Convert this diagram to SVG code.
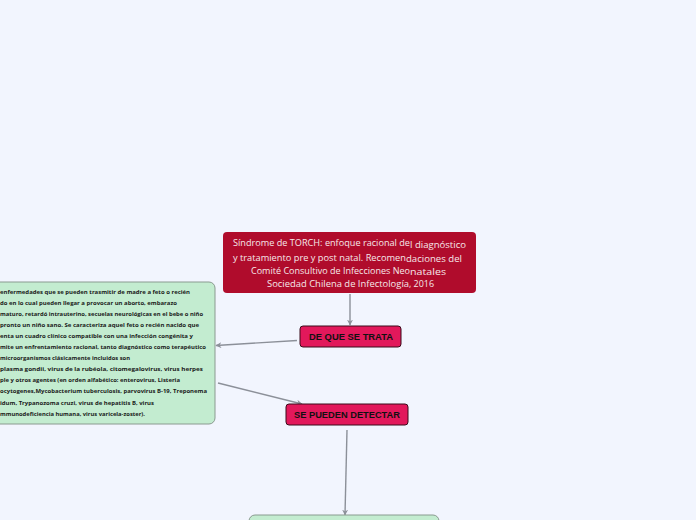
<svg xmlns="http://www.w3.org/2000/svg" width="696" height="520" viewBox="0 0 696 520">
<style>
.bg{fill:#f2f5fe}
.green{fill:#c3ecd0;stroke:#8a9a90;stroke-width:1}
.red{fill:#b00c2c}
.pink{fill:#e2185b;stroke:#3b0b1a;stroke-width:1}
.conn{stroke:#8c9099;stroke-width:1.4;fill:none;marker-end:url(#arr)}
.t{font-family:"Open Sans","Noto Sans",sans-serif;font-size:9px;fill:#f6e8ea}
.lbl{font-family:"Liberation Sans",Arial,sans-serif;font-size:8.5px;font-weight:bold;fill:#111}
.s{font-family:"Open Sans","Noto Sans",sans-serif;font-size:5.8px;font-weight:bold;fill:#1a1a1a}
</style>
<defs>
<marker id="arr" viewBox="0 0 10 10" refX="9" refY="5" markerWidth="6" markerHeight="6" orient="auto" markerUnits="userSpaceOnUse">
<path d="M0,0 L10,5 L0,10 L3,5 Z" fill="#8c9099"/>
</marker>
</defs>
<rect class="bg" x="0" y="0" width="696" height="520"/>
<g id="connectors">
<line class="conn" x1="350" y1="294" x2="350" y2="325"/>
<line class="conn" x1="297" y1="340.5" x2="216" y2="345.5"/>
<line class="conn" x1="218" y1="383" x2="302" y2="404"/>
<line class="conn" x1="347" y1="430" x2="345" y2="515"/>
</g>
<g id="title">
<rect class="red" x="223" y="232" width="253" height="61" rx="4"/>
<text class="t" x="233" y="246" textLength="177" lengthAdjust="spacingAndGlyphs">Síndrome de TORCH: enfoque racional de</text>
<text class="t" x="410" y="248" textLength="56" lengthAdjust="spacingAndGlyphs">l diagnóstico</text>
<text class="t" x="233" y="261" textLength="173" lengthAdjust="spacingAndGlyphs">y  tratamiento pre y post natal. Recomen</text>
<text class="t" x="406" y="262" textLength="56" lengthAdjust="spacingAndGlyphs">daciones del</text>
<text class="t" x="251" y="274" textLength="159" lengthAdjust="spacingAndGlyphs">Comité Consultivo de Infecciones Neo</text>
<text class="t" x="410" y="275" textLength="36" lengthAdjust="spacingAndGlyphs">natales</text>
<text class="t" x="267" y="287" textLength="142" lengthAdjust="spacingAndGlyphs">Sociedad Chilena de Infectología</text>
<text class="t" x="409" y="287" textLength="25" lengthAdjust="spacingAndGlyphs">, 2016</text>
</g>
<g id="de-que-se-trata">
<rect class="pink" x="300" y="326" width="101" height="21" rx="3"/>
<text class="lbl" x="309" y="339.8" textLength="84" lengthAdjust="spacingAndGlyphs">DE QUE SE TRATA</text>
</g>
<g id="descripcion">
<rect class="green" x="-20" y="282" width="235" height="142" rx="6"/>
<text class="s" x="0" y="293.5" textLength="190" lengthAdjust="spacingAndGlyphs">enfermedades que se pueden trasmitir de madre a feto o recién</text>
<text class="s" x="0" y="304.6" textLength="177" lengthAdjust="spacingAndGlyphs">do en lo cual pueden llegar a provocar un aborto, embarazo</text>
<text class="s" x="0" y="315.7" textLength="203" lengthAdjust="spacingAndGlyphs">maturo, retardó intrauterino, secuelas neurológicas en el bebe o niño</text>
<text class="s" x="0" y="326.8" textLength="199" lengthAdjust="spacingAndGlyphs"> pronto un niño sano. Se caracteriza aquel feto o recién nacido  que</text>
<text class="s" x="0" y="337.9" textLength="193" lengthAdjust="spacingAndGlyphs">enta un cuadro clínico compatible con una infección congénita y</text>
<text class="s" x="0" y="349" textLength="206" lengthAdjust="spacingAndGlyphs">mite un enfrentamiento racional, tanto diagnóstico como terapéutico</text>
<text class="s" x="0" y="360.1" textLength="130" lengthAdjust="spacingAndGlyphs">microorganismos clásicamente incluidos son</text>
<text class="s" x="0" y="371.2" textLength="203" lengthAdjust="spacingAndGlyphs">plasma gondii, virus de la rubéola, citomegalovirus, virus herpes</text>
<text class="s" x="0" y="382.3" textLength="180" lengthAdjust="spacingAndGlyphs">ple y otros agentes (en orden alfabético: enterovirus, Listeria</text>
<text class="s" x="0" y="393.4" textLength="207" lengthAdjust="spacingAndGlyphs">ocytogenes,Mycobacterium tuberculosis, parvovirus B-19, Treponema</text>
<text class="s" x="0" y="404.5" textLength="154" lengthAdjust="spacingAndGlyphs">idum, Trypanozoma cruzi, virus de hepatitis B, virus</text>
<text class="s" x="0" y="415.6" textLength="145" lengthAdjust="spacingAndGlyphs">mmunodeficiencia humana, virus varicela-zoster).</text>
</g>
<g id="se-pueden-detectar">
<rect class="pink" x="286" y="404" width="122" height="21" rx="3"/>
<text class="lbl" x="294" y="417.8" textLength="106" lengthAdjust="spacingAndGlyphs">SE PUEDEN DETECTAR</text>
</g>
<g id="deteccion">
<rect class="green" x="249" y="515" width="190" height="30" rx="6"/>
</g>
</svg>
